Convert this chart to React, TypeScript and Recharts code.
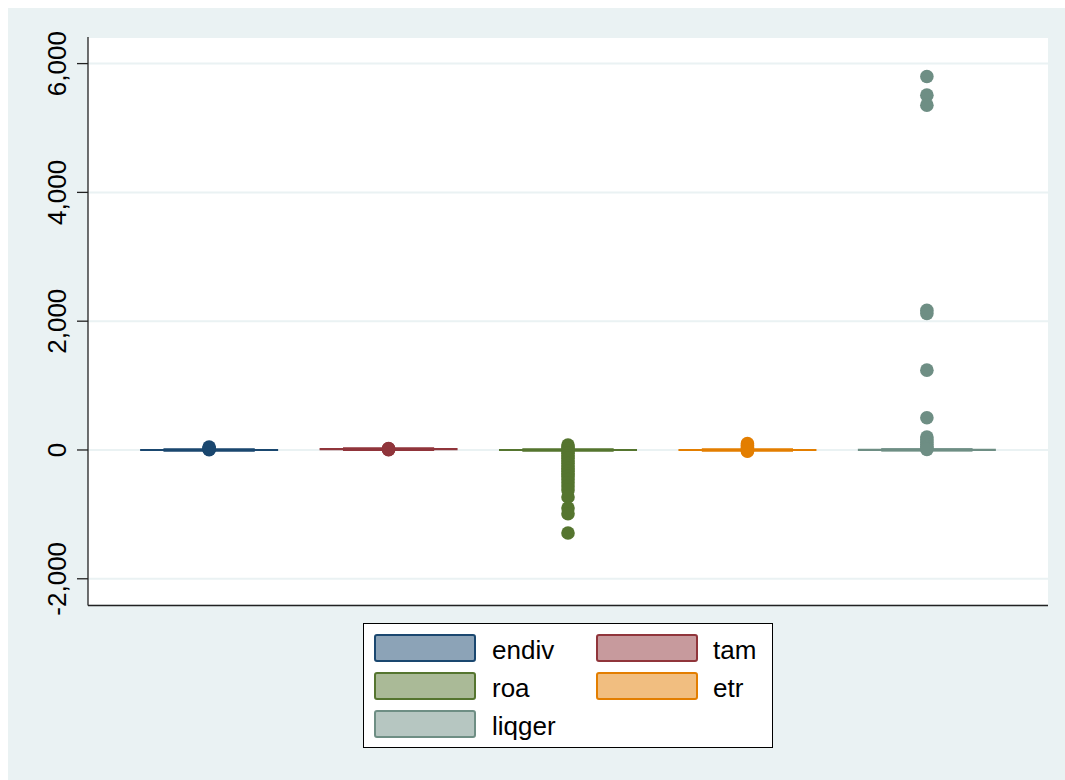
import React from "react";
import {
  ComposedChart,
  CartesianGrid,
  XAxis,
  YAxis,
  Scatter,
  ReferenceArea,
  ReferenceLine,
} from "recharts";

// Variables, in plotting order
const VARS = ["endiv", "tam", "roa", "etr", "liqger"];

// Box summary per variable (lower adjacent, quartiles, median, upper adjacent)
const LOWER_ADJ = [0, 8, -0.3, 0, 0];
const Q1 = [0.2, 12, 0.01, 0.1, 0.8];
const MEDIAN = [0.45, 13.5, 0.05, 0.2, 1.4];
const Q3 = [0.65, 15, 0.1, 0.3, 2.3];
const UPPER_ADJ = [1.3, 19, 0.3, 0.6, 4.5];

// Outside values, one list per variable
const OUT_ENDIV = [3, 12, 25, 45];
const OUT_TAM = [4, 7, 20, 24];
const OUT_ROA = [
  78, 45, 20, -15, -50, -90, -130, -170, -210, -250, -290, -330, -370, -410,
  -460, -510, -560, -620, -730, -900, -990, -1290,
];
const OUT_ETR = [98, 70, 40, 15, -10, -20];
const OUT_LIQGER = [
  5800, 5510, 5355, 2170, 2120, 1240, 500, 200, 160, 120, 85, 55, 30, 10,
];
const OUTLIERS = [OUT_ENDIV, OUT_TAM, OUT_ROA, OUT_ETR, OUT_LIQGER];

const Y_TICKS = [-2000, 0, 2000, 4000, 6000];

// Stata s2color line colours and their 50% tints for box fills
const LINE = ["#1A476F", "#90353B", "#55752F", "#E37E00", "#6E8E84"];
const FILL = ["#8CA3B7", "#C79A9D", "#AABA97", "#F1BE80", "#B6C6C1"];

const BG = "#EAF2F3";
const AXIS = "#222";
const FONT = '"Liberation Sans", Arial, Helvetica, sans-serif';

const BOX_HALF = 0.379;
const CAP_HALF = 0.254;

function YTick(props: any) {
  const { x, y, payload } = props;
  const label = Number(payload.value).toLocaleString("en-US");
  return (
    <text
      x={x}
      y={y}
      transform={`rotate(-90 ${x} ${y})`}
      textAnchor="middle"
      fontSize={26}
      fontFamily={FONT}
      fill="#000"
    >
      {label}
    </text>
  );
}

function BoxLegend() {
  const rows = [11, 49, 87];
  const items = VARS.map((name, i) => ({
    name,
    col: i % 2,
    row: Math.floor(i / 2),
    i,
  }));
  return (
    <div style={{ position: "absolute", left: 355, top: 615 }}>
      <svg width={410} height={125}>
        <rect x={0.5} y={0.5} width={409} height={124} fill="#fff" stroke="#000" />
        {items.map((it) => {
          const sx = it.col === 0 ? 11 : 233;
          const tx = it.col === 0 ? 129 : 350;
          const y = rows[it.row];
          return (
            <g key={it.name}>
              <rect
                x={sx + 1}
                y={y + 1}
                width={100}
                height={26}
                rx={2}
                fill={FILL[it.i]}
                stroke={LINE[it.i]}
                strokeWidth={2}
              />
              <text x={tx} y={y + 25} fontSize={26} fontFamily={FONT} fill="#000">
                {it.name}
              </text>
            </g>
          );
        })}
      </svg>
    </div>
  );
}

export default function App() {
  return (
    <div
      style={{
        position: "fixed",
        left: 8,
        top: 8,
        width: 1057,
        height: 772,
        background: BG,
        fontFamily: FONT,
      }}
    >
      <ComposedChart
        width={1057}
        height={772}
        margin={{ top: 29, right: 17, bottom: 144.5, left: 0 }}
      >
        <CartesianGrid
          vertical={false}
          fill="#fff"
          fillOpacity={1}
          stroke={BG}
          strokeWidth={2}
        />
        <XAxis
          type="number"
          dataKey="x"
          domain={[0.325, 5.675]}
          allowDataOverflow
          tick={false}
          tickLine={false}
          height={30}
          axisLine={{ stroke: AXIS, strokeWidth: 1.3 }}
        />
        <YAxis
          type="number"
          dataKey="y"
          domain={[-2415, 6413]}
          allowDataOverflow
          ticks={Y_TICKS}
          width={80}
          tickSize={11}
          tickMargin={11}
          tick={<YTick />}
          tickLine={{ stroke: AXIS, strokeWidth: 1.3 }}
          axisLine={{ stroke: AXIS, strokeWidth: 1.3 }}
        />
        {VARS.map((v, i) => {
          const x = i + 1;
          return (
            <React.Fragment key={v}>
              <ReferenceLine
                segment={[
                  { x, y: LOWER_ADJ[i] },
                  { x, y: Q1[i] },
                ]}
                stroke={LINE[i]}
                strokeWidth={2}
              />
              <ReferenceLine
                segment={[
                  { x, y: Q3[i] },
                  { x, y: UPPER_ADJ[i] },
                ]}
                stroke={LINE[i]}
                strokeWidth={2}
              />
              <ReferenceArea
                x1={x - BOX_HALF}
                x2={x + BOX_HALF}
                y1={Q1[i]}
                y2={Q3[i]}
                fill={FILL[i]}
                fillOpacity={1}
                stroke={LINE[i]}
                strokeWidth={2}
              />
              <ReferenceLine
                segment={[
                  { x: x - BOX_HALF, y: MEDIAN[i] },
                  { x: x + BOX_HALF, y: MEDIAN[i] },
                ]}
                stroke={LINE[i]}
                strokeWidth={2}
              />
              <ReferenceLine
                segment={[
                  { x: x - CAP_HALF, y: LOWER_ADJ[i] },
                  { x: x + CAP_HALF, y: LOWER_ADJ[i] },
                ]}
                stroke={LINE[i]}
                strokeWidth={3}
              />
              <ReferenceLine
                segment={[
                  { x: x - CAP_HALF, y: UPPER_ADJ[i] },
                  { x: x + CAP_HALF, y: UPPER_ADJ[i] },
                ]}
                stroke={LINE[i]}
                strokeWidth={3}
              />
            </React.Fragment>
          );
        })}
        {VARS.map((v, i) => (
          <Scatter
            key={`out-${v}`}
            name={v}
            data={OUTLIERS[i].map((y) => ({ x: i + 1, y }))}
            isAnimationActive={false}
            shape={(p: any) => (
              <circle cx={p.cx} cy={p.cy} r={6.8} fill={LINE[i]} />
            )}
          />
        ))}
      </ComposedChart>
      <BoxLegend />
    </div>
  );
}
